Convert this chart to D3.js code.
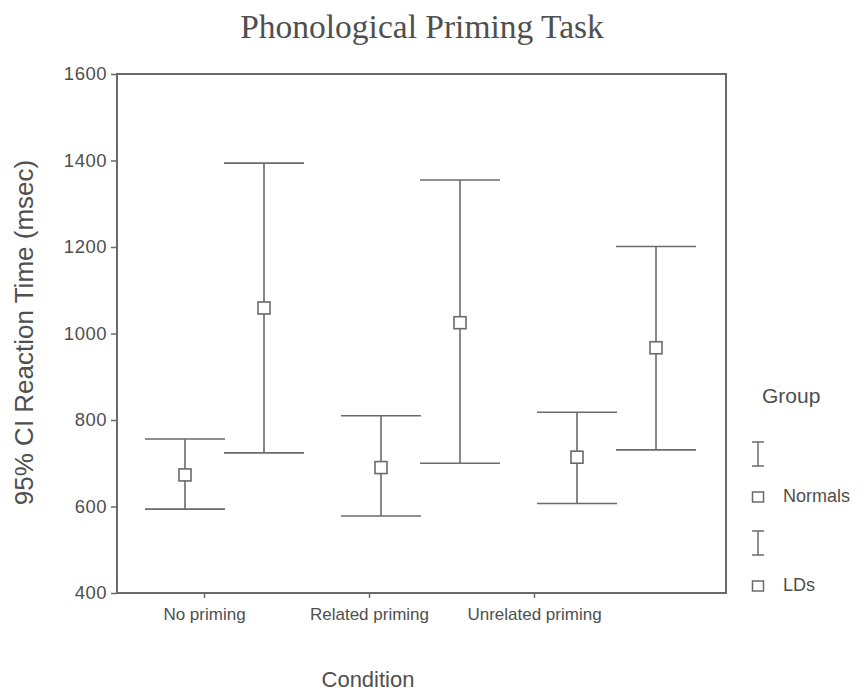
<!DOCTYPE html>
<html>
<head>
<meta charset="utf-8">
<script src="https://cdn.jsdelivr.net/npm/d3@7"></script>
<style>
  html, body { margin: 0; padding: 0; background: #ffffff; }
  svg { display: block; }
</style>
</head>
<body>
<svg id="chart" width="866" height="693"></svg>
<script>
// ---- data ----
const categories = ["No priming", "Related priming", "Unrelated priming"];
const groups = ["Normals", "LDs"];
const normalsMean  = [673, 690, 714];
const normalsLower = [594, 578, 607];
const normalsUpper = [756, 810, 818];
const ldsMean  = [1059, 1025, 967];
const ldsLower = [724, 700, 731];
const ldsUpper = [1394, 1355, 1201];
const yTicks = [400, 600, 800, 1000, 1200, 1400, 1600];
const titleText = "Phonological Priming Task";
const yTitle = "95% CI Reaction Time (msec)";
const xTitle = "Condition";
const legendTitle = "Group";

// table built from arrays
const seriesValues = {
  Normals: { mean: normalsMean, lower: normalsLower, upper: normalsUpper },
  LDs: { mean: ldsMean, lower: ldsLower, upper: ldsUpper }
};
const points = [];
categories.forEach((c, i) => {
  groups.forEach(g => {
    points.push({ cat: c, group: g,
      mean: seriesValues[g].mean[i], lower: seriesValues[g].lower[i], upper: seriesValues[g].upper[i] });
  });
});

// ---- layout ----
const plot = { left: 117, right: 726, top: 74, bottom: 593 };
const lineColor = "#6a6a6a";
const textColor = "#4f4f4f";

const svg = d3.select("#chart");

const y = d3.scaleLinear().domain([400, 1600]).range([plot.bottom, plot.top]);
const xBand = d3.scaleBand().domain(categories).range([126.5, 714.5]).padding(0);
const xSub = d3.scalePoint().domain(groups).range([-39.5, 39.5]);
const xTick = d3.scalePoint().domain(categories).range([204, 534]);
const cx = d => xBand(d.cat) + xBand.bandwidth() / 2 + xSub(d.group);

// title
svg.append("text")
  .attr("x", 422).attr("y", 38)
  .attr("text-anchor", "middle")
  .attr("font-family", "Liberation Serif, Times New Roman, serif")
  .attr("font-size", 33.5)
  .attr("fill", textColor)
  .text(titleText);

// frame
svg.append("rect")
  .attr("x", plot.left).attr("y", plot.top)
  .attr("width", plot.right - plot.left).attr("height", plot.bottom - plot.top)
  .attr("fill", "none").attr("stroke", lineColor).attr("stroke-width", 2);

// y axis
const yAxis = svg.append("g")
  .attr("transform", `translate(${plot.left},0)`)
  .call(d3.axisLeft(y).tickValues(yTicks).tickFormat(d3.format("d"))
    .tickSize(6).tickSizeOuter(0).tickPadding(4));
yAxis.select(".domain").remove();
yAxis.selectAll(".tick line").attr("stroke", lineColor).attr("stroke-width", 1.5);
yAxis.selectAll(".tick text")
  .attr("font-family", "Liberation Sans, Arial, sans-serif")
  .attr("font-size", 18.5)
  .attr("letter-spacing", 0.5)
  .attr("fill", textColor);

// x axis
const xAxis = svg.append("g")
  .attr("transform", `translate(0,${plot.bottom})`)
  .call(d3.axisBottom(xTick).tickSize(5).tickSizeOuter(0).tickPadding(10));
xAxis.select(".domain").remove();
xAxis.selectAll(".tick line").attr("stroke", lineColor).attr("stroke-width", 1.5);
xAxis.selectAll(".tick text")
  .attr("font-family", "Liberation Sans, Arial, sans-serif")
  .attr("font-size", 17)
  .attr("fill", textColor);

// axis titles
svg.append("text")
  .attr("transform", `translate(33,${(155 + 510) / 2}) rotate(-90)`)
  .attr("text-anchor", "middle")
  .attr("font-family", "Liberation Sans, Arial, sans-serif")
  .attr("font-size", 26)
  .attr("fill", textColor)
  .text(yTitle);

svg.append("text")
  .attr("x", 368).attr("y", 687)
  .attr("text-anchor", "middle")
  .attr("font-family", "Liberation Sans, Arial, sans-serif")
  .attr("font-size", 22)
  .attr("fill", textColor)
  .text(xTitle);

// error bars
const capHalf = 40;
const bars = svg.append("g").selectAll("g.bar").data(points).join("g").attr("class", "bar");
bars.append("line")
  .attr("x1", cx).attr("x2", cx)
  .attr("y1", d => y(d.lower)).attr("y2", d => y(d.upper))
  .attr("stroke", lineColor).attr("stroke-width", 1.6);
bars.append("line")
  .attr("x1", d => cx(d) - capHalf).attr("x2", d => cx(d) + capHalf)
  .attr("y1", d => y(d.upper)).attr("y2", d => y(d.upper))
  .attr("stroke", lineColor).attr("stroke-width", 1.6);
bars.append("line")
  .attr("x1", d => cx(d) - capHalf).attr("x2", d => cx(d) + capHalf)
  .attr("y1", d => y(d.lower)).attr("y2", d => y(d.lower))
  .attr("stroke", lineColor).attr("stroke-width", 1.6);
bars.append("rect")
  .attr("x", d => cx(d) - 6).attr("y", d => y(d.mean) - 6)
  .attr("width", 12).attr("height", 12)
  .attr("fill", "#ffffff").attr("stroke", lineColor).attr("stroke-width", 1.6);

// legend
const legend = svg.append("g");
legend.append("text")
  .attr("x", 762).attr("y", 403)
  .attr("font-family", "Liberation Sans, Arial, sans-serif")
  .attr("font-size", 21)
  .attr("fill", textColor)
  .text(legendTitle);

const legendRows = groups.map((g, i) => ({ g, i }));
const lg = legend.selectAll("g.item").data(legendRows).join("g")
  .attr("class", "item")
  .attr("transform", d => `translate(758,${442 + d.i * 89})`);
// error bar icon
lg.append("line").attr("x1", 0).attr("x2", 0).attr("y1", 0).attr("y2", 24)
  .attr("stroke", lineColor).attr("stroke-width", 1.5);
lg.append("line").attr("x1", -6).attr("x2", 6).attr("y1", 0).attr("y2", 0)
  .attr("stroke", lineColor).attr("stroke-width", 1.5);
lg.append("line").attr("x1", -6).attr("x2", 6).attr("y1", 24).attr("y2", 24)
  .attr("stroke", lineColor).attr("stroke-width", 1.5);
// square icon
lg.append("rect").attr("x", -5.5).attr("y", 50).attr("width", 11).attr("height", 10)
  .attr("fill", "#ffffff").attr("stroke", lineColor).attr("stroke-width", 1.5);
lg.append("text")
  .attr("x", 25).attr("y", 60)
  .attr("font-family", "Liberation Sans, Arial, sans-serif")
  .attr("font-size", 18)
  .attr("fill", textColor)
  .text(d => d.g);
</script>
</body>
</html>
